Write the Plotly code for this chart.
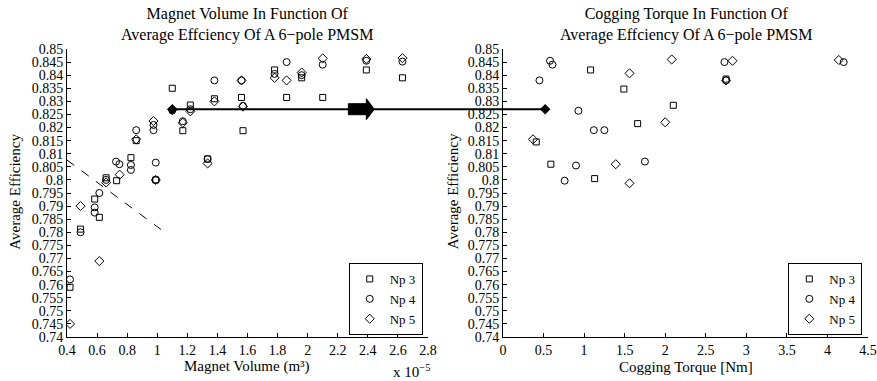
import plotly.graph_objects as go

# ---------------- data ----------------
# Left: magnet volume (x 1e-5 m^3) vs average efficiency
np3_vol = [0.42, 0.49, 0.584, 0.615, 0.66, 0.73, 0.825, 0.86, 0.99, 1.10, 1.17, 1.22, 1.335, 1.38, 1.56, 1.57, 1.78, 1.86, 1.96, 2.10, 2.39, 2.63]
np3_eff_l = [0.759, 0.7812, 0.7927, 0.7857, 0.8008, 0.7997, 0.8085, 0.815, 0.800, 0.835, 0.8188, 0.8286, 0.808, 0.831, 0.8315, 0.8188, 0.842, 0.8315, 0.839, 0.8315, 0.842, 0.839]

np4_vol = [0.42, 0.49, 0.584, 0.584, 0.615, 0.66, 0.726, 0.748, 0.825, 0.825, 0.86, 0.975, 0.975, 0.99, 0.99, 1.10, 1.17, 1.22, 1.335, 1.38, 1.56, 1.57, 1.78, 1.86, 1.96, 2.10, 2.39, 2.63]
np4_eff_l = [0.762, 0.780, 0.7895, 0.7875, 0.795, 0.800, 0.807, 0.806, 0.8057, 0.8038, 0.819, 0.821, 0.819, 0.8066, 0.800, 0.8265, 0.8224, 0.827, 0.808, 0.838, 0.838, 0.8283, 0.8405, 0.845, 0.840, 0.844, 0.8455, 0.8452]

np5_vol = [0.42, 0.49, 0.615, 0.66, 0.75, 0.86, 0.975, 0.99, 1.10, 1.17, 1.22, 1.335, 1.38, 1.56, 1.57, 1.78, 1.86, 1.96, 2.10, 2.39, 2.63]
np5_eff_l = [0.745, 0.790, 0.769, 0.799, 0.802, 0.8155, 0.8225, 0.800, 0.8268, 0.8218, 0.8262, 0.8063, 0.830, 0.838, 0.828, 0.839, 0.838, 0.841, 0.8464, 0.8462, 0.8465]

# Right: cogging torque (Nm) vs average efficiency
np3_tq = [0.41, 0.59, 1.08, 1.13, 1.49, 1.66, 2.10, 2.75]
np3_eff_r = [0.8145, 0.806, 0.842, 0.8005, 0.8347, 0.8215, 0.8285, 0.8385]

np4_tq = [0.45, 0.58, 0.61, 0.76, 0.90, 0.93, 1.12, 1.25, 1.75, 2.73, 2.75, 4.20]
np4_eff_r = [0.838, 0.8455, 0.844, 0.7997, 0.8055, 0.8264, 0.819, 0.819, 0.807, 0.845, 0.838, 0.845]

np5_tq = [0.37, 1.39, 1.56, 1.56, 2.00, 2.08, 2.75, 2.83, 4.14]
np5_eff_r = [0.8155, 0.806, 0.8407, 0.7987, 0.822, 0.846, 0.838, 0.8455, 0.8458]

# highlighted design (filled markers joined by arrow)
sel_vol = 1.10
sel_tq = 0.52
sel_eff = 0.827
arrow_at_vol = 2.39

# dashed trend line (left)
dash_x = [0.4, 1.05]
dash_y = [0.8076, 0.780]

# ticks
y_ticks = [0.74, 0.745, 0.75, 0.755, 0.76, 0.765, 0.77, 0.775, 0.78, 0.785, 0.79, 0.795,
           0.80, 0.805, 0.81, 0.815, 0.82, 0.825, 0.83, 0.835, 0.84, 0.845, 0.85]
y_labels = ["0.74", "0.745", "0.75", "0.755", "0.76", "0.765", "0.77", "0.775", "0.78", "0.785", "0.79", "0.795",
            "0.8", "0.805", "0.81", "0.815", "0.82", "0.825", "0.83", "0.835", "0.84", "0.845", "0.85"]
xl_ticks = [0.4, 0.6, 0.8, 1.0, 1.2, 1.4, 1.6, 1.8, 2.0, 2.2, 2.4, 2.6, 2.8]
xl_labels = ["0.4", "0.6", "0.8", "1", "1.2", "1.4", "1.6", "1.8", "2", "2.2", "2.4", "2.6", "2.8"]
xr_ticks = [0, 0.5, 1, 1.5, 2, 2.5, 3, 3.5, 4, 4.5]
xr_labels = ["0", "0.5", "1", "1.5", "2", "2.5", "3", "3.5", "4", "4.5"]

series_names = ["Np 3", "Np 4", "Np 5"]

# ---------------- figure ----------------
FONT = "Liberation Serif, Times New Roman, serif"
FS = 15
TICK_FS = 14
XL_RANGE = [0.4, 2.8]
XR_RANGE = [0, 4.5]
Y_RANGE = [0.74, 0.85]
DOM_L = [0.0, 0.4507]
DOM_R = [0.5443, 1.0]

def paper_x(v, rng, dom):
    return dom[0] + (dom[1] - dom[0]) * (v - rng[0]) / (rng[1] - rng[0])

def paper_y(v):
    return (v - Y_RANGE[0]) / (Y_RANGE[1] - Y_RANGE[0])

fig = go.Figure()

symbols = ["square-open", "circle-open", "diamond-open"]
sizes = [6, 7, 7]
left_sets = [(np3_vol, np3_eff_l), (np4_vol, np4_eff_l), (np5_vol, np5_eff_l)]
right_sets = [(np3_tq, np3_eff_r), (np4_tq, np4_eff_r), (np5_tq, np5_eff_r)]

for i, (xs, ys) in enumerate(left_sets):
    fig.add_trace(go.Scatter(x=xs, y=ys, mode="markers", name=series_names[i],
                             marker=dict(symbol=symbols[i], size=sizes[i], color="black",
                                         line=dict(width=1, color="black")),
                             xaxis="x", yaxis="y", legend="legend"))
for i, (xs, ys) in enumerate(right_sets):
    fig.add_trace(go.Scatter(x=xs, y=ys, mode="markers", name=series_names[i],
                             marker=dict(symbol=symbols[i], size=sizes[i], color="black",
                                         line=dict(width=1, color="black")),
                             xaxis="x2", yaxis="y2", legend="legend2"))

fig.add_trace(go.Scatter(x=dash_x, y=dash_y, mode="lines", showlegend=False,
                         line=dict(color="black", width=1, dash="dash"),
                         xaxis="x", yaxis="y"))

fig.add_trace(go.Scatter(x=[sel_vol], y=[sel_eff], mode="markers", showlegend=False,
                         marker=dict(symbol="diamond", size=8, color="black"),
                         xaxis="x", yaxis="y"))
fig.add_trace(go.Scatter(x=[sel_tq], y=[sel_eff], mode="markers", showlegend=False,
                         marker=dict(symbol="diamond", size=8, color="black"),
                         xaxis="x2", yaxis="y2"))

# connecting line across both plots
x0p = paper_x(sel_vol, XL_RANGE, DOM_L)
x1p = paper_x(sel_tq, XR_RANGE, DOM_R)
yp = paper_y(sel_eff)
fig.add_shape(type="line", xref="paper", yref="paper", x0=x0p, x1=x1p, y0=yp, y1=yp,
              line=dict(color="black", width=2))
# block arrow head
fig.add_shape(type="path", xref="paper", yref="paper",
              xsizemode="pixel", ysizemode="pixel",
              xanchor=paper_x(arrow_at_vol, XL_RANGE, DOM_L), yanchor=yp,
              path="M -18,-5.5 L 0,-5.5 L 0,-10.5 L 8,0 L 0,10.5 L 0,5.5 L -18,5.5 Z",
              fillcolor="black", line=dict(color="black", width=1))

axis_common = dict(showline=True, linecolor="black", linewidth=1, ticks="inside",
                   ticklen=4, tickcolor="black", showgrid=False, zeroline=False,
                   tickfont=dict(family=FONT, size=TICK_FS, color="black"), mirror=False)

LEG_FS = 13
fig.update_layout(
    width=877, height=381,
    margin=dict(l=67, r=9, t=49, b=44, autoexpand=False),
    paper_bgcolor="white", plot_bgcolor="white",
    font=dict(family=FONT, size=FS, color="black"),
    xaxis=dict(domain=DOM_L, range=XL_RANGE, tickvals=xl_ticks, ticktext=xl_labels, anchor="y", **axis_common),
    yaxis=dict(range=Y_RANGE, tickvals=y_ticks, ticktext=y_labels, anchor="x", **axis_common),
    xaxis2=dict(domain=DOM_R, range=XR_RANGE, tickvals=xr_ticks, ticktext=xr_labels, anchor="y2", **axis_common),
    yaxis2=dict(range=Y_RANGE, tickvals=y_ticks, ticktext=y_labels, anchor="x2", **axis_common),
    legend=dict(x=0.4441, y=0.007, xanchor="right", yanchor="bottom", bgcolor="white",
                bordercolor="black", borderwidth=1, font=dict(family=FONT, size=LEG_FS),
                tracegroupgap=0, itemwidth=30),
    legend2=dict(x=0.9929, y=0.007, xanchor="right", yanchor="bottom", bgcolor="white",
                 bordercolor="black", borderwidth=1, font=dict(family=FONT, size=LEG_FS),
                 tracegroupgap=0, itemwidth=30),
    showlegend=True,
)

ann = dict(xref="paper", yref="paper", showarrow=False, font=dict(family=FONT, size=FS, color="black"))
tfont = dict(family=FONT, size=16, color="black")
fig.add_annotation(text="Magnet Volume In Function Of<br>Average Effciency Of A 6−pole PMSM",
                   x=0.2253, y=1.0104, xanchor="center", yanchor="bottom",
                   xref="paper", yref="paper", showarrow=False, font=tfont)
fig.add_annotation(text="Cogging Torque In Function Of<br>Average Effciency Of A 6−pole PMSM",
                   x=0.7722, y=1.0104, xanchor="center", yanchor="bottom",
                   xref="paper", yref="paper", showarrow=False, font=tfont)
fig.add_annotation(text="Magnet Volume (m³)", x=0.2253, y=-0.104, xanchor="center", yanchor="middle", **ann)
fig.add_annotation(text="Cogging Torque [Nm]", x=0.7722, y=-0.104, xanchor="center", yanchor="middle", **ann)
fig.add_annotation(text="x 10<sup>−5</sup>", x=0.4045, y=-0.118, xanchor="left", yanchor="middle", **ann)
fig.add_annotation(text="Average Efficiency", x=-0.066, y=0.505, textangle=-90,
                   xanchor="center", yanchor="middle", **ann)
fig.add_annotation(text="Average Efficiency", x=0.4815, y=0.505, textangle=-90,
                   xanchor="center", yanchor="middle", **ann)

fig.write_html("out.html", config={"displayModeBar": False},
               post_script="document.body.style.margin='0px';")
